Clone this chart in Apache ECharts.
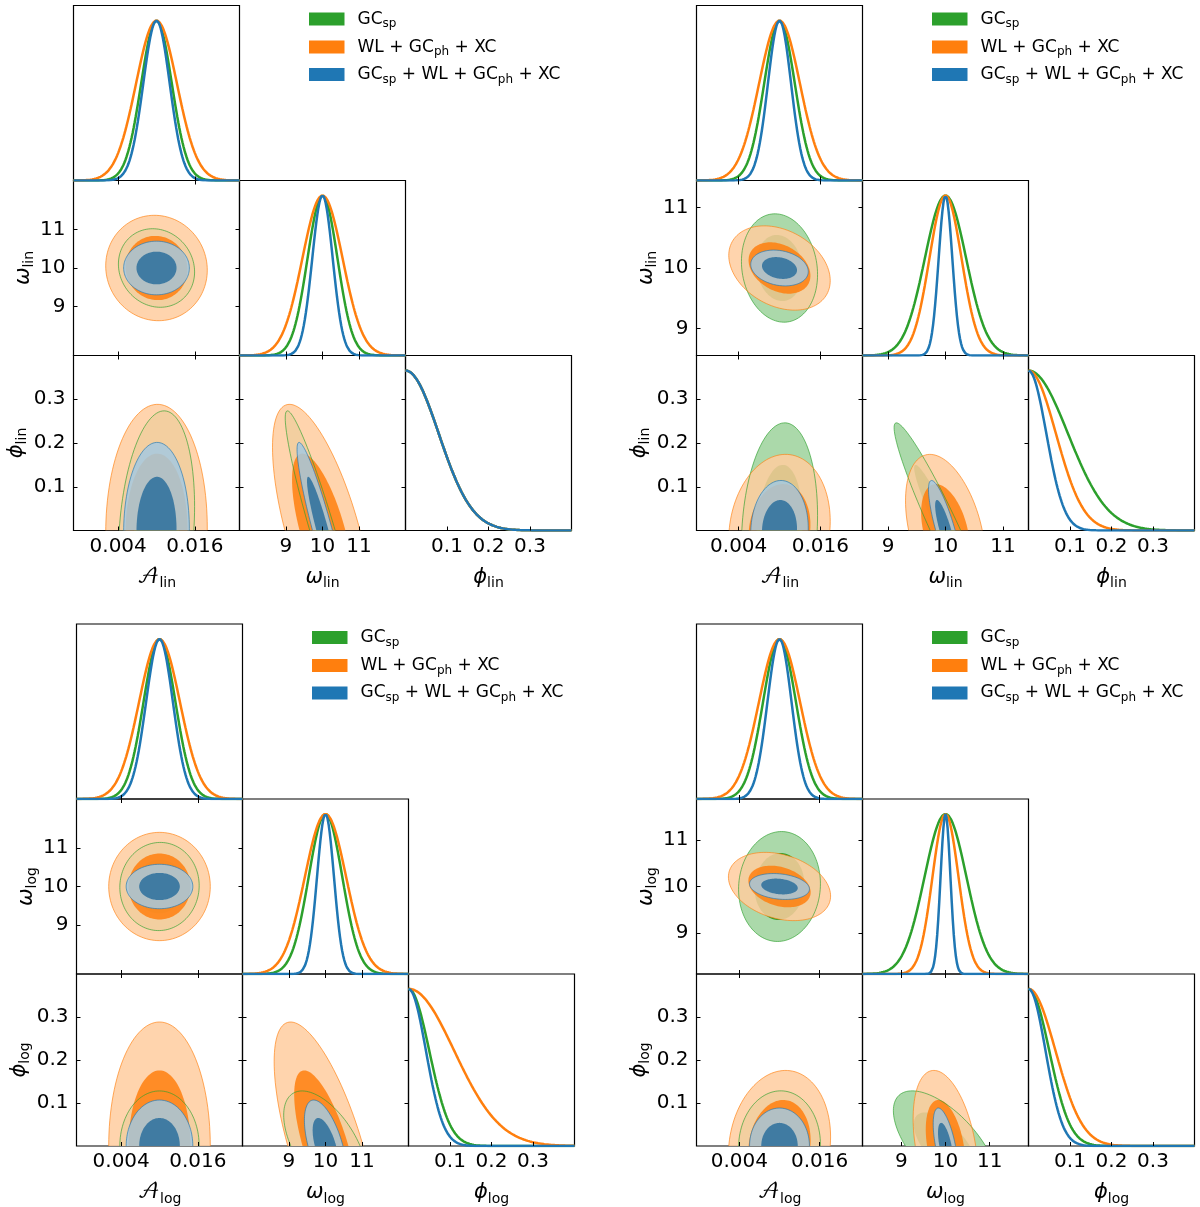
<!DOCTYPE html>
<html>
<head>
<meta charset="utf-8">
<title>Oscillation feature forecasts</title>
<script src="https://cdn.jsdelivr.net/npm/echarts@6.0.0/dist/echarts.min.js"></script>
<style>
  html, body { margin: 0; padding: 0; background: #fff; }
  #chart { width: 1200px; height: 1207px; }
</style>
</head>
<body>
<div id="chart"></div>
<script>
// * triangle plots for the oscillation amplitude, frequency and phase

// probes, in drawing order (green first, blue on top)
const probeNames = ['GC_sp', 'WL + GC_ph + XC', 'GC_sp + WL + GC_ph + XC']
const probeColors = ['#2ca02c', '#ff7f0e', '#1f77b4']
const probeDark = ['#2ca02c', '#ff7f0e', '#2b6e9c']
const probeLight = ['#abd9aa', '#ffcc9f', '#a5c9e1']
const fillAlpha = [1, 0.85, 0.85]

// fiducial values: A, omega, phi
const fiducial = [0.01, 10, 0]

// tick labels
const ampTicks = [0.004, 0.016]
const omegaTicks = [9, 10, 11]
const phiTicks = [0.1, 0.2, 0.3]

// top-left (lin), one value per probe: GC_sp, WL+GC_ph+XC, combined
const linASigmaA = [0.0024, 0.0032, 0.00207]
const linASigmaW = [0.41, 0.55, 0.28]
const linASigmaP = [0.11, 0.116, 0.081]
const linARhoAW = [-0.1, -0.04, 0]
const linARhoAP = [0.2, 0.02, 0.02]
const linARhoWP = [-0.94, -0.66, -0.92]
const linAPhi1D = [0.08, 0.08, 0.08]

// top-right (lin)
const linBSigmaA = [0.00225, 0.003, 0.0017]
const linBSigmaW = [0.36, 0.28, 0.119]
const linBSigmaP = [0.099, 0.07, 0.046]
const linBRhoAW = [-0.12, -0.3, -0.2]
const linBRhoAP = [0.14, 0.12, 0.05]
const linBRhoWP = [-0.955, -0.39, -0.82]
const linBPhi1D = [0.095, 0.066, 0.043]

// bottom-left (log)
const logASigmaA = [0.0025, 0.0032, 0.0021]
const logASigmaW = [0.46, 0.565, 0.232]
const logASigmaP = [0.0515, 0.116, 0.043]
const logARhoAW = [0.02, 0, 0]
const logARhoAP = [0, 0, 0]
const logARhoWP = [-0.56, -0.68, -0.56]
const logAPhi1D = [0.05, 0.11, 0.042]

// bottom-right (log)
const logBSigmaA = [0.00246, 0.00307, 0.0018]
const logBSigmaW = [0.475, 0.295, 0.112]
const logBSigmaP = [0.0516, 0.0707, 0.0355]
const logBRhoAW = [0.05, -0.28, -0.2]
const logBRhoAP = [0.03, 0.12, 0]
const logBRhoWP = [-0.64, -0.36, -0.58]
const logBPhi1D = [0.05, 0.065, 0.041]

const FONT = "'DejaVu Sans', 'DejaVu Math TeX Gyre', 'Noto Sans', sans-serif"
const W = 166
const H = 175
const k1 = 1.515   // 68% 2D contour
const k2 = 2.486   // 95% 2D contour
const phiRange = [0, 0.4]
const peakTop = 1.094

const figures = [
  { left: 73.5, top: 5.5, sub: 'lin', range: [[-0.003, 0.023], [7.73, 12.27], phiRange],
    sigma: [linASigmaA, linASigmaW, linASigmaP], rho: { '1-0': linARhoAW, '2-0': linARhoAP, '2-1': linARhoWP }, phi1D: linAPhi1D },
  { left: 696.5, top: 5.5, sub: 'lin', range: [[-0.0022, 0.0222], [8.555, 11.445], phiRange],
    sigma: [linBSigmaA, linBSigmaW, linBSigmaP], rho: { '1-0': linBRhoAW, '2-0': linBRhoAP, '2-1': linBRhoWP }, phi1D: linBPhi1D },
  { left: 76.5, top: 624, sub: 'log', range: [[-0.003, 0.023], [7.73, 12.27], phiRange],
    sigma: [logASigmaA, logASigmaW, logASigmaP], rho: { '1-0': logARhoAW, '2-0': logARhoAP, '2-1': logARhoWP }, phi1D: logAPhi1D },
  { left: 696.5, top: 624, sub: 'log', range: [[-0.0024, 0.0224], [8.12, 11.88], phiRange],
    sigma: [logBSigmaA, logBSigmaW, logBSigmaP], rho: { '1-0': logBRhoAW, '2-0': logBRhoAP, '2-1': logBRhoWP }, phi1D: logBPhi1D }
]

const paramTicks = [ampTicks, omegaTicks, phiTicks]
const paramSymbols = ['𝒜', 'ω', 'ϕ']
const paramItalic = [false, true, true]

function gaussianCurve (mu, sigma, lo, hi) {
  const pts = []
  for (let i = 0; i <= 160; i++) {
    const x = lo + (hi - lo) * i / 160
    pts.push([x, Math.exp(-0.5 * ((x - mu) / sigma) ** 2)])
  }
  return pts
}

function axisNameStyle (italic) {
  return {
    color: '#000',
    fontFamily: FONT,
    rich: {
      m: { fontSize: 21, lineHeight: 26, fontFamily: FONT, fontStyle: italic ? 'italic' : 'normal', color: '#000' },
      s: { fontSize: 14, lineHeight: 12, verticalAlign: 'bottom', fontFamily: FONT, color: '#000' }
    }
  }
}

function valueAxis (gridIndex, position, range, ticks, showLabels, param, sub, nameGap) {
  const ax = {
    type: 'value',
    gridIndex,
    position,
    min: range[0],
    max: range[1],
    z: 5,
    axisLine: { show: false, onZero: false },
    axisTick: { show: ticks.length > 0, inside: true, length: 4, lineStyle: { color: '#000', width: 1 }, customValues: ticks },
    axisLabel: {
      show: showLabels, customValues: ticks, color: '#000', fontSize: 20, fontFamily: FONT,
      margin: position === 'bottom' ? 6 : 8
    },
    splitLine: { show: false }
  }
  if (param !== null) {
    ax.name = '{m|' + paramSymbols[param] + '}{s|' + sub + '}'
    ax.nameLocation = 'middle'
    ax.nameGap = nameGap
    ax.nameTextStyle = axisNameStyle(paramItalic[param])
  }
  return ax
}

// ellipse draw order: fills (2σ then 1σ) probe by probe, then the 2σ outlines
const contourOrder = [[0, 0], [0, 1], [1, 0], [1, 1], [2, 0], [2, 1], [0, 2], [1, 2], [2, 2]]

function ellipseRenderer (fig, cx, cy) {
  return function (params, api) {
    const p = api.value(0)
    const kind = api.value(1)
    const sx = fig.sigma[cx][p]
    const sy = fig.sigma[cy][p]
    const rho = fig.rho[cy + '-' + cx][p]
    const k = kind === 1 ? k1 : k2
    const pts = []
    for (let i = 0; i < 120; i++) {
      const t = 2 * Math.PI * i / 120
      const dx = k * sx * Math.cos(t)
      const dy = k * sy * (rho * Math.cos(t) + Math.sqrt(1 - rho * rho) * Math.sin(t))
      pts.push(api.coord([fiducial[cx] + dx, fiducial[cy] + dy]))
    }
    const cs = params.coordSys
    const clipPath = { type: 'rect', shape: { x: cs.x, y: cs.y, width: cs.width, height: cs.height } }
    if (kind === 2) {
      return {
        type: 'polygon', shape: { points: pts }, clipPath,
        style: { fill: 'none', stroke: probeColors[p], lineWidth: 1, opacity: 0.65 }
      }
    }
    return {
      type: 'polygon', shape: { points: pts }, clipPath,
      style: { fill: kind === 1 ? probeDark[p] : probeLight[p], opacity: fillAlpha[p] }
    }
  }
}

const grids = []
const xAxes = []
const yAxes = []
const series = []
const graphics = []

figures.forEach(fig => {
  for (let r = 0; r < 3; r++) {
    for (let c = 0; c <= r; c++) {
      const gi = grids.length
      grids.push({
        left: fig.left + c * W, top: fig.top + r * H, width: W, height: H,
        show: true, borderColor: '#000', borderWidth: 1.2, backgroundColor: 'transparent'
      })
      const bottomRow = r === 2
      const leftCol = c === 0
      const xi = xAxes.length
      xAxes.push(valueAxis(gi, 'bottom', fig.range[c], paramTicks[c], bottomRow, bottomRow ? c : null, fig.sub, 34))
      const yi = yAxes.length
      if (r === c) {
        // 1D marginal
        yAxes.push({ type: 'value', gridIndex: gi, min: 0, max: peakTop, show: false })
        for (let p = 0; p < 3; p++) {
          const data = c === 2
            ? gaussianCurve(0, fig.phi1D[p], 0, 0.4)
            : gaussianCurve(fiducial[c], fig.sigma[c][p], fig.range[c][0], fig.range[c][1])
          series.push({
            type: 'line', name: probeNames[p], xAxisIndex: xi, yAxisIndex: yi, data,
            showSymbol: false, silent: true, animation: false, z: 3,
            lineStyle: { color: probeColors[p], width: 2.5 }, itemStyle: { color: probeColors[p] }
          })
        }
      } else {
        yAxes.push(valueAxis(gi, 'left', fig.range[r], paramTicks[r], leftCol, leftCol ? r : null, fig.sub, r === 2 ? 42 : 34))
        // tick marks on the top and right edges
        xAxes.push(valueAxis(gi, 'top', fig.range[c], paramTicks[c], false, null, '', 0))
        yAxes.push(valueAxis(gi, 'right', fig.range[r], paramTicks[r], false, null, '', 0))
        series.push({
          type: 'custom', xAxisIndex: xi, yAxisIndex: yi, clip: true, silent: true, animation: false, z: 2,
          data: contourOrder, renderItem: ellipseRenderer(fig, c, r)
        })
      }
    }
  }
  // legend
  const legendRows = [13.6, 41.6, 69]
  probeNames.forEach((nm, p) => {
    const lx = fig.left + 235.5
    const ly = fig.top + legendRows[p]
    graphics.push({ type: 'rect', shape: { x: lx, y: ly - 6.5, width: 35.5, height: 13 }, style: { fill: probeColors[p] } })
    graphics.push({
      type: 'text', x: lx + 48.5, y: ly - 11,
      style: {
        text: '{n|' + nm.replace(/_(\w+)/g, '}{s|$1}{n|') + '}',
        fill: '#000',
        rich: {
          n: { fontSize: 17, lineHeight: 22, fontFamily: FONT, fill: '#000' },
          s: { fontSize: 12, lineHeight: 10, verticalAlign: 'bottom', fontFamily: FONT, fill: '#000' }
        }
      }
    })
  })
})

const chart = echarts.init(document.getElementById('chart'))
chart.setOption({
  backgroundColor: '#fff',
  animation: false,
  grid: grids,
  xAxis: xAxes,
  yAxis: yAxes,
  series,
  graphic: graphics
})
</script>
</body>
</html>
